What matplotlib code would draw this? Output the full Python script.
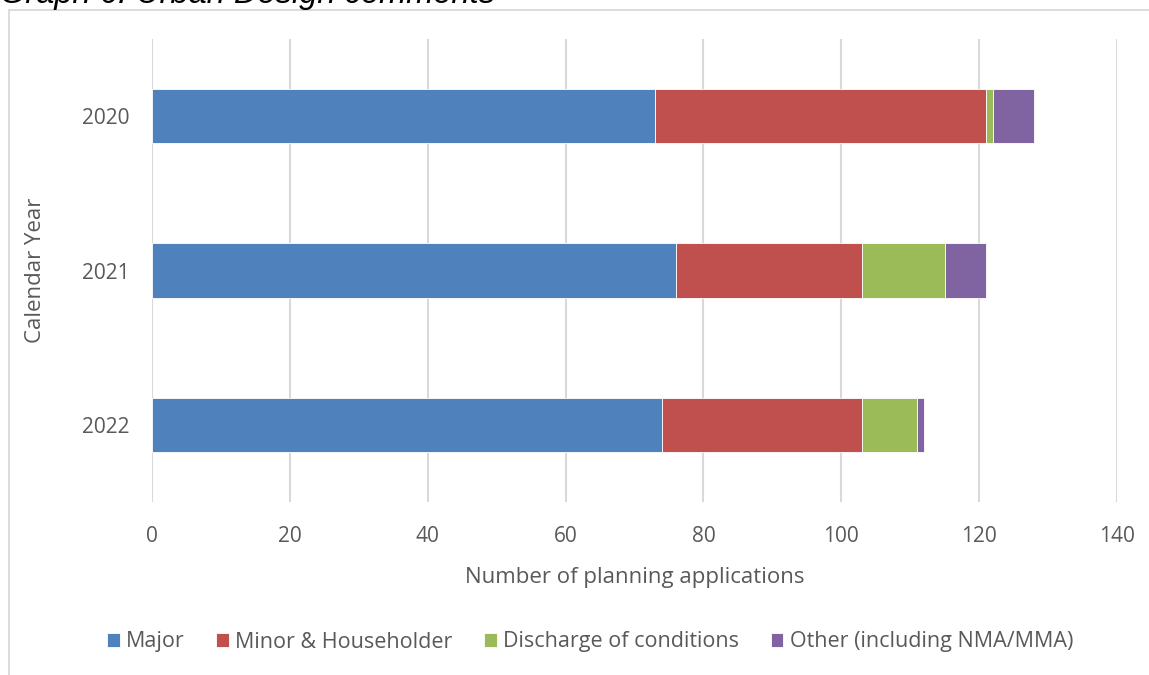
import matplotlib.pyplot as plt
from matplotlib.patches import Rectangle

# planning applications with urban design comments, per calendar year
years = ['2020', '2021', '2022']
major = [73, 76, 74]
minor = [48, 27, 29]
discharge = [1, 12, 8]
other = [6, 6, 1]

series = [major, minor, discharge, other]
names = ['Major', 'Minor & Householder', 'Discharge of conditions', 'Other (including NMA/MMA)']
colours = ['#4f81bd', '#c0504d', '#9bbb59', '#8064a2']

plt.rcParams['font.family'] = ['Open Sans', 'DejaVu Sans']

fig = plt.figure(figsize=(11.49, 6.75), dpi=100)
ax = fig.add_axes([152 / 1149, 1 - 502 / 675, (1117 - 152) / 1149, (502 - 39) / 675])

# chart frame, runs off the right and bottom edges
fig.patches.append(Rectangle((9 / 1149, -0.1), 1.2, 1.1 - 10 / 675, transform=fig.transFigure,
                             fill=False, edgecolor='#d9d9d9', linewidth=1.3, zorder=0))

fig.text(0, 1 - 3 / 675, 'Graph 6: Urban Design comments', family='Liberation Sans',
         style='italic', fontsize=23.5, va='baseline', ha='left', color='black')

pos = list(range(len(years)))
left = [0] * len(years)
for vals, name, col in zip(series, names, colours):
    ax.barh(pos, vals, left=left, height=0.35, color=col, label=name,
            edgecolor='white', linewidth=0.6, zorder=3)
    left = [a + b for a, b in zip(left, vals)]

ax.set_xlim(0, 140)
ax.set_ylim(2.5, -0.5)
ax.set_xticks(range(0, 141, 20))
ax.set_yticks(pos)
ax.set_yticklabels(years)
ax.grid(axis='x', color='#d9d9d9', linewidth=1.5, zorder=0)
for s in ax.spines.values():
    s.set_visible(False)
ax.tick_params(length=0, labelsize=15, colors='#595959')
ax.tick_params(axis='y', pad=16)
ax.tick_params(axis='x', pad=17)

ax.set_xlabel('Number of planning applications', fontsize=16, color='#595959', labelpad=15)
ax.set_ylabel('Calendar Year', fontsize=16, color='#595959', labelpad=26)

fig.legend(loc='center', bbox_to_anchor=(590 / 1149, 1 - 642 / 675), ncol=4, frameon=False,
           fontsize=15.5, labelcolor='#595959', handlelength=0.6, handleheight=0.6,
           handletextpad=0.3, columnspacing=1.45)

fig.savefig('out.png', dpi=100)
